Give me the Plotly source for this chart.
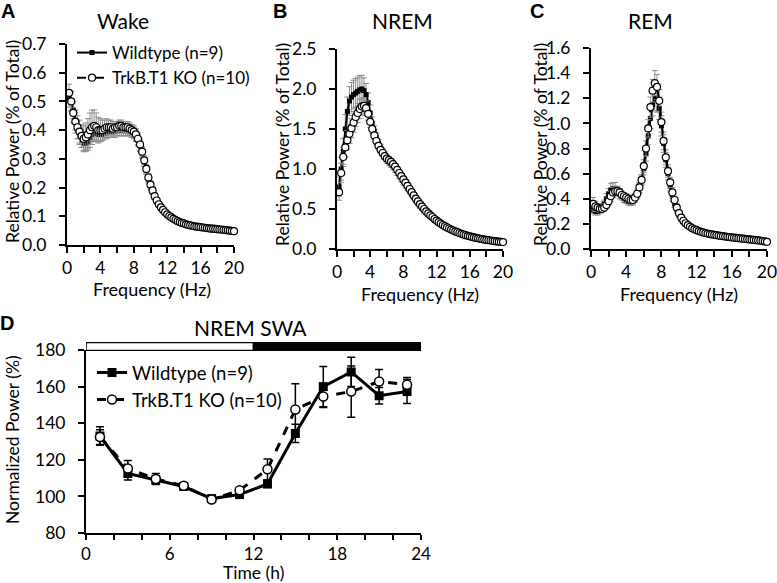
import plotly.graph_objects as go

# ---------------- data ----------------
freq = [round(0.25 * i, 2) for i in range(1, 81)]  # 0.25 Hz bins, 0.25..20 Hz

wake_wt = [0.51,0.50,0.47,0.43,0.40,0.38,0.365,0.355,
           0.355,0.36,0.375,0.385,0.39,0.39,0.385,0.385,
           0.385,0.39,0.39,0.395,0.395,0.395,0.395,0.40,
           0.40,0.40,0.40,0.40,0.40,0.40,0.395,0.39,
           0.38,0.365,0.345,0.32,0.29,0.26,0.23,0.205,
           0.188,0.168,0.153,0.14,0.129,0.12,0.112,0.105,
           0.099,0.094,0.089,0.085,0.081,0.078,0.075,0.073,
           0.071,0.069,0.067,0.066,0.064,0.063,0.062,0.061,
           0.060,0.059,0.058,0.057,0.056,0.056,0.055,0.054,
           0.053,0.053,0.052,0.051,0.050,0.049,0.048,0.047]
wake_wt_err = [0.03,0.03,0.03,0.03,0.03,0.03,0.025,0.025,
               0.025,0.025,0.025,0.025,0.025,0.025,0.025,0.025,
               0.02,0.02,0.02,0.02,0.02,0.02,0.02,0.02,
               0.02,0.02,0.02,0.02,0.02,0.02,0.02,0.02,
               0.02,0.02,0.02,0.018,0.016,0.015,0.014,0.013,
               0.012,0.011,0.01,0.009,0.008,0.008,0.007,0.007,
               0.006,0.006,0.006,0.005,0.005,0.005,0.005,0.005,
               0.004,0.004,0.004,0.004,0.004,0.004,0.004,0.004,
               0.004,0.004,0.004,0.004,0.004,0.004,0.004,0.004,
               0.003,0.003,0.003,0.003,0.003,0.003,0.003,0.003]
wake_ko = [0.53,0.50,0.46,0.43,0.41,0.395,0.38,0.37,
           0.375,0.385,0.40,0.41,0.415,0.41,0.40,0.40,
           0.40,0.405,0.41,0.41,0.41,0.405,0.41,0.41,
           0.415,0.415,0.41,0.41,0.41,0.405,0.40,0.395,
           0.385,0.37,0.35,0.325,0.295,0.265,0.235,0.21,
           0.19,0.17,0.155,0.142,0.131,0.122,0.114,0.107,
           0.101,0.096,0.091,0.087,0.083,0.080,0.077,0.075,
           0.072,0.070,0.068,0.067,0.065,0.064,0.063,0.062,
           0.061,0.060,0.059,0.058,0.057,0.057,0.056,0.055,
           0.054,0.054,0.053,0.052,0.051,0.050,0.049,0.048]
wake_ko_err = [0.03,0.035,0.035,0.04,0.04,0.04,0.04,0.045,
               0.05,0.055,0.06,0.06,0.055,0.05,0.045,0.04,
               0.035,0.03,0.03,0.025,0.025,0.025,0.02,0.02,
               0.02,0.02,0.02,0.02,0.02,0.02,0.02,0.02,
               0.02,0.02,0.02,0.018,0.016,0.015,0.014,0.013,
               0.012,0.011,0.01,0.009,0.008,0.008,0.007,0.007,
               0.006,0.006,0.006,0.005,0.005,0.005,0.005,0.005,
               0.004,0.004,0.004,0.004,0.004,0.004,0.004,0.004,
               0.004,0.004,0.004,0.004,0.004,0.004,0.004,0.004,
               0.003,0.003,0.003,0.003,0.003,0.003,0.003,0.003]

nrem_wt = [0.78,1.0,1.22,1.50,1.72,1.85,1.90,1.93,
           1.95,1.97,1.99,2.0,1.98,1.93,1.83,1.70,
           1.57,1.47,1.39,1.32,1.26,1.21,1.17,1.12,
           1.09,1.07,1.04,1.01,0.97,0.93,0.89,0.85,
           0.81,0.77,0.73,0.69,0.65,0.61,0.575,0.54,
           0.51,0.48,0.455,0.43,0.405,0.385,0.36,0.34,
           0.322,0.305,0.29,0.275,0.26,0.247,0.235,0.223,
           0.212,0.202,0.193,0.184,0.175,0.167,0.16,0.153,
           0.146,0.14,0.134,0.129,0.124,0.119,0.114,0.11,
           0.106,0.102,0.099,0.095,0.092,0.089,0.086,0.083]
nrem_wt_err = [0.12,0.14,0.16,0.18,0.18,0.18,0.18,0.18,
               0.18,0.18,0.18,0.17,0.16,0.14,0.12,0.10,
               0.08,0.07,0.06,0.05,0.05,0.05,0.05,0.05,
               0.05,0.05,0.05,0.05,0.05,0.05,0.05,0.05,
               0.045,0.04,0.04,0.035,0.035,0.03,0.03,0.03,
               0.025,0.025,0.025,0.02,0.02,0.02,0.02,0.02,
               0.015,0.015,0.015,0.015,0.015,0.015,0.015,0.015,
               0.012,0.012,0.012,0.012,0.012,0.012,0.012,0.012,
               0.01,0.01,0.01,0.01,0.01,0.01,0.01,0.01,
               0.008,0.008,0.008,0.008,0.008,0.008,0.008,0.008]
nrem_ko = [0.71,0.95,1.15,1.27,1.36,1.44,1.51,1.58,
           1.65,1.70,1.75,1.78,1.79,1.76,1.69,1.59,
           1.50,1.42,1.35,1.29,1.24,1.20,1.16,1.13,
           1.11,1.09,1.06,1.03,0.99,0.95,0.91,0.87,
           0.83,0.79,0.75,0.71,0.67,0.63,0.595,0.56,
           0.53,0.50,0.47,0.445,0.42,0.40,0.375,0.355,
           0.335,0.318,0.30,0.285,0.27,0.256,0.243,0.231,
           0.22,0.21,0.20,0.19,0.181,0.173,0.165,0.158,
           0.151,0.145,0.139,0.133,0.128,0.123,0.118,0.114,
           0.11,0.106,0.102,0.098,0.095,0.092,0.089,0.086]
nrem_ko_err = [0.10,0.12,0.12,0.12,0.12,0.12,0.12,0.12,
               0.12,0.12,0.12,0.11,0.10,0.09,0.08,0.07,
               0.06,0.05,0.05,0.04,0.04,0.04,0.04,0.04,
               0.04,0.04,0.04,0.04,0.04,0.04,0.04,0.04,
               0.04,0.035,0.035,0.03,0.03,0.03,0.03,0.03,
               0.025,0.025,0.025,0.02,0.02,0.02,0.02,0.02,
               0.015,0.015,0.015,0.015,0.015,0.015,0.015,0.015,
               0.012,0.012,0.012,0.012,0.012,0.012,0.012,0.012,
               0.01,0.01,0.01,0.01,0.01,0.01,0.01,0.01,
               0.008,0.008,0.008,0.008,0.008,0.008,0.008,0.008]

rem_wt = [0.31,0.30,0.30,0.31,0.33,0.36,0.40,0.44,
          0.47,0.48,0.48,0.46,0.44,0.42,0.40,0.39,
          0.38,0.375,0.38,0.40,0.43,0.48,0.55,0.64,
          0.76,0.90,1.04,1.15,1.20,1.19,1.12,0.98,
          0.84,0.71,0.60,0.50,0.42,0.36,0.31,0.27,
          0.24,0.215,0.198,0.184,0.172,0.162,0.153,0.146,
          0.14,0.134,0.129,0.124,0.12,0.116,0.113,0.11,
          0.107,0.104,0.101,0.099,0.096,0.094,0.092,0.09,
          0.088,0.086,0.084,0.082,0.08,0.078,0.076,0.074,
          0.072,0.07,0.068,0.066,0.064,0.061,0.058,0.055]
rem_wt_err = [0.03,0.03,0.03,0.03,0.03,0.03,0.04,0.04,
              0.05,0.05,0.05,0.04,0.04,0.03,0.03,0.03,
              0.03,0.03,0.03,0.03,0.03,0.04,0.04,0.05,
              0.06,0.07,0.08,0.09,0.10,0.10,0.09,0.08,
              0.07,0.06,0.05,0.04,0.04,0.03,0.03,0.02,
              0.02,0.015,0.015,0.012,0.01,0.01,0.01,0.01,
              0.008,0.008,0.008,0.008,0.008,0.008,0.008,0.008,
              0.007,0.007,0.007,0.007,0.007,0.007,0.007,0.007,
              0.006,0.006,0.006,0.006,0.006,0.006,0.006,0.006,
              0.005,0.005,0.005,0.005,0.005,0.005,0.005,0.005]
rem_ko = [0.36,0.34,0.33,0.32,0.32,0.33,0.35,0.38,
          0.42,0.45,0.46,0.46,0.45,0.43,0.42,0.41,
          0.40,0.39,0.39,0.41,0.44,0.49,0.55,0.66,
          0.80,0.96,1.13,1.26,1.32,1.29,1.18,1.01,
          0.86,0.73,0.62,0.53,0.45,0.39,0.33,0.285,
          0.25,0.225,0.205,0.19,0.177,0.166,0.157,0.15,
          0.143,0.137,0.132,0.127,0.123,0.119,0.116,0.113,
          0.11,0.107,0.104,0.102,0.099,0.097,0.095,0.092,
          0.09,0.088,0.086,0.084,0.082,0.08,0.078,0.076,
          0.074,0.072,0.07,0.068,0.066,0.063,0.06,0.057]
rem_ko_err = [0.05,0.04,0.03,0.03,0.03,0.03,0.03,0.03,
              0.04,0.04,0.04,0.03,0.03,0.03,0.03,0.03,
              0.03,0.03,0.03,0.03,0.03,0.04,0.04,0.05,
              0.06,0.07,0.08,0.09,0.10,0.10,0.09,0.08,
              0.07,0.06,0.05,0.04,0.04,0.03,0.03,0.02,
              0.02,0.015,0.015,0.012,0.01,0.01,0.01,0.01,
              0.008,0.008,0.008,0.008,0.008,0.008,0.008,0.008,
              0.007,0.007,0.007,0.007,0.007,0.007,0.007,0.007,
              0.006,0.006,0.006,0.006,0.006,0.006,0.006,0.006,
              0.005,0.005,0.005,0.005,0.005,0.005,0.005,0.005]

swa_time = [1, 3, 5, 7, 9, 11, 13, 15, 17, 19, 21, 23]
swa_wt = [133, 112.5, 109, 105.4, 98.8, 101, 106.8, 134.4, 160, 168, 155, 157.3]
swa_wt_err = [5, 3.5, 2, 1.5, 1, 1.5, 2, 5, 11, 8, 4.5, 6.6]
swa_ko = [132.4, 115.2, 109.5, 105.8, 98.3, 103.3, 114.8, 147.5, 154.6, 157.3, 162.8, 161]
swa_ko_err = [4, 4.4, 3, 1.5, 1, 1.5, 5.7, 14, 6, 14, 6.5, 4]

phase_start = [0, 12]
phase_len = [12, 12]
phase_color = ["white", "black"]

wt_name = "Wildtype (n=9)"
ko_name = "TrkB.T1 KO (n=10)"

for arr in [wake_wt, wake_wt_err, wake_ko, wake_ko_err, nrem_wt, nrem_wt_err,
            nrem_ko, nrem_ko_err, rem_wt, rem_wt_err, rem_ko, rem_ko_err]:
    assert len(arr) == len(freq), len(arr)

# ---------------- figure ----------------
FONT = "Lato, 'Open Sans', sans-serif"
W, H = 777, 583
ERRC = "#8c8c8c"

fig = go.Figure()

def spectral(xa, ya, wt, wte, ko, koe, legend=None, show=False):
    fig.add_trace(go.Scatter(
        x=freq, y=wt, xaxis=xa, yaxis=ya, mode="lines+markers", name=wt_name,
        line=dict(color="black", width=2),
        marker=dict(symbol="square", size=5, color="black"),
        error_y=dict(type="data", array=wte, color=ERRC, thickness=1, width=3),
        showlegend=show, legend=legend or "legend", cliponaxis=False))
    fig.add_trace(go.Scatter(
        x=freq, y=ko, xaxis=xa, yaxis=ya, mode="lines+markers", name=ko_name,
        line=dict(color="black", width=2, dash="dash"),
        marker=dict(symbol="circle", size=7, color="white",
                    line=dict(color="black", width=1.2)),
        error_y=dict(type="data", array=koe, color=ERRC, thickness=1, width=3),
        showlegend=show, legend=legend or "legend", cliponaxis=False))

spectral("x", "y", wake_wt, wake_wt_err, wake_ko, wake_ko_err, "legend", True)
spectral("x2", "y2", nrem_wt, nrem_wt_err, nrem_ko, nrem_ko_err)
spectral("x3", "y3", rem_wt, rem_wt_err, rem_ko, rem_ko_err)

fig.add_trace(go.Scatter(
    x=swa_time, y=swa_wt, xaxis="x4", yaxis="y4", mode="lines+markers", name=wt_name,
    line=dict(color="black", width=3),
    marker=dict(symbol="square", size=9, color="black"),
    error_y=dict(type="data", array=swa_wt_err, color="black", thickness=1.5, width=4),
    legend="legend2", cliponaxis=False))
fig.add_trace(go.Scatter(
    x=swa_time, y=swa_ko, xaxis="x4", yaxis="y4", mode="lines+markers", name=ko_name,
    line=dict(color="black", width=3, dash="dash"),
    marker=dict(symbol="circle", size=9, color="white", line=dict(color="black", width=1.5)),
    error_y=dict(type="data", array=swa_ko_err, color="black", thickness=1.5, width=4),
    legend="legend2", cliponaxis=False))

# light / dark bar
fig.add_trace(go.Bar(
    y=[0.5, 0.5], x=phase_len, base=phase_start, orientation="h",
    xaxis="x4", yaxis="y5", width=1,
    marker=dict(color=phase_color, line=dict(color="black", width=1.5)),
    showlegend=False, hoverinfo="skip"))

def px_x(p):
    return p / W

def px_y(p):
    return 1 - p / H

base_axis = dict(showline=True, linecolor="black", linewidth=2, ticks="outside",
                 tickcolor="black", tickwidth=2, ticklen=6, showgrid=False,
                 zeroline=False, tickfont=dict(family=FONT, size=17.5, color="black"),
                 fixedrange=True, automargin=False, ticklabeloverflow="allow")

freq_ticks = list(range(0, 21, 2))
freq_text = [str(v) if v % 4 == 0 else "" for v in freq_ticks]
time_ticks = list(range(0, 25, 2))
time_text = [str(v) if v % 6 == 0 else "" for v in time_ticks]

def xfreq(d0, d1, anchor):
    return dict(base_axis, domain=[px_x(d0), px_x(d1)], range=[0, 20], anchor=anchor,
                tickvals=freq_ticks, ticktext=freq_text)

def ylin(b, t, anchor, rng, dt):
    return dict(base_axis, domain=[px_y(b), px_y(t)], range=rng, anchor=anchor,
                tick0=0, dtick=dt, tickformat=".1f", ticklabelstandoff=9)

fig.update_layout(
    template="none",
    width=W, height=H, margin=dict(l=0, r=0, t=0, b=0, pad=0, autoexpand=False),
    paper_bgcolor="white", plot_bgcolor="white",
    font=dict(family=FONT, size=17, color="black"),
    xaxis=xfreq(67, 234, "y"),
    yaxis=ylin(245, 44, "x", [0, 0.7], 0.1),
    xaxis2=xfreq(337, 503, "y2"),
    yaxis2=ylin(249, 49, "x2", [0, 2.5], 0.5),
    xaxis3=xfreq(591, 767, "y3"),
    yaxis3=ylin(249, 48, "x3", [0, 1.6], 0.2),
    xaxis4=dict(base_axis, domain=[px_x(86), px_x(421)], range=[0, 24], anchor="y4",
                tickvals=time_ticks, ticktext=time_text, ticklen=5,
                tickfont=dict(family=FONT, size=17, color="black")),
    yaxis4=dict(base_axis, domain=[px_y(533), px_y(350)], range=[80, 180], anchor="x4",
                dtick=20, ticklabelstandoff=9),
    yaxis5=dict(domain=[px_y(351), px_y(342)], range=[-0.05, 1.05], anchor="x4",
                visible=False, fixedrange=True, automargin=False),
    legend=dict(x=px_x(72), y=px_y(35), xanchor="left", yanchor="top",
                bgcolor="rgba(0,0,0,0)", font=dict(family=FONT, size=17),
                tracegroupgap=0, itemwidth=30),
    legend2=dict(x=px_x(92), y=px_y(354), xanchor="left", yanchor="top",
                 bgcolor="rgba(0,0,0,0)", font=dict(family=FONT, size=18.5),
                 tracegroupgap=0, itemwidth=30),
    showlegend=True,
)

ann = []
def text(x, y, s, size=18, bold=False, angle=0, fam=FONT):
    ann.append(dict(x=px_x(x), y=px_y(y), xref="paper", yref="paper", text=s,
                    showarrow=False, textangle=angle, xanchor="center", yanchor="middle",
                    font=dict(family=fam, size=size, color="black")))

# panel letters
for (lx, ly, s) in [(8, 11, "A"), (280, 11, "B"), (537, 11, "C"), (7, 323, "D")]:
    text(lx, ly, "<b>%s</b>" % s, size=20, fam="Liberation Sans, Arial, sans-serif")
# titles
text(123, 21, "Wake", size=21)
text(402, 21, "NREM", size=21)
text(650, 21, "REM", size=21)
text(250, 327, "NREM SWA", size=21)
# axis titles
text(12, 142, "Relative Power (% of Total)", angle=-90, size=17.5)
text(282, 145, "Relative Power (% of Total)", angle=-90, size=17.5)
text(540, 145, "Relative Power (% of Total)", angle=-90, size=17.5)
text(12, 440, "Normalized Power (%)", angle=-90, size=17.5)
text(152, 289, "Frequency (Hz)", size=18)
text(420, 294, "Frequency (Hz)", size=18)
text(679, 294, "Frequency (Hz)", size=18)
text(253, 572, "Time (h)", size=17.5)
fig.update_layout(annotations=ann)

fig.write_html("out.html", post_script="document.body.style.margin='0';",
               config={"displayModeBar": False, "staticPlot": True})
